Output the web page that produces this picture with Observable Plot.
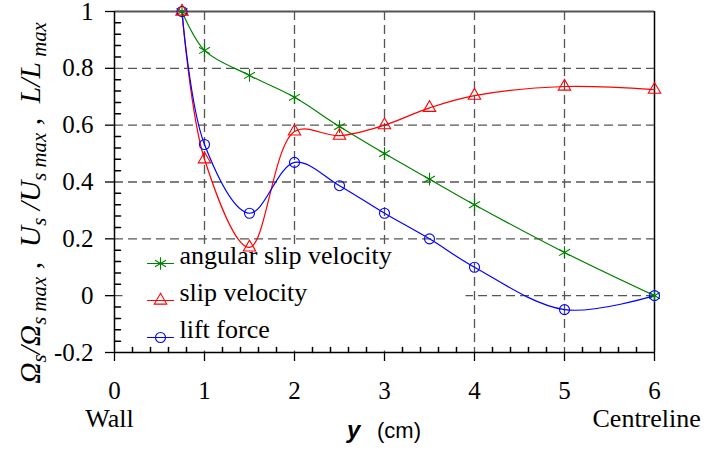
<!DOCTYPE html>
<html>
<head>
<meta charset="utf-8">
<script src="https://cdn.jsdelivr.net/npm/d3@7"></script>
<script src="https://cdn.jsdelivr.net/npm/@observablehq/plot@0.6"></script>
<style>
  body { margin: 0; background: #fff; overflow: hidden; }
  #chart svg { display: block; font-family: "Liberation Serif", "Times New Roman", serif !important; }
  #chart svg text { font-family: "Liberation Serif", "Times New Roman", serif; }
  #chart svg text.sans { font-family: "Liberation Sans", Arial, sans-serif; }
</style>
</head>
<body>
<div id="chart"></div>
<script>
// Radial position y (cm) from the wall to the centreline
const yPos = [0.75, 1, 1.5, 2, 2.5, 3, 3.5, 4, 5, 6];

// Normalised profiles
const angularSlip  = [1, 0.863, 0.775, 0.698, 0.595, 0.50, 0.41, 0.32, 0.152, 0];
const slipVelocity = [1, 0.48, 0.17, 0.578, 0.563, 0.60, 0.661, 0.704, 0.736, 0.725];
const liftForce    = [1, 0.532, 0.29, 0.469, 0.387, 0.29, 0.20, 0.10, -0.049, 0];

const seriesNames   = ["angular slip velocity", "slip velocity", "lift force"];
const seriesColors  = ["#008000", "#ff0000", "#0000ff"];
const seriesSymbols = ["asterisk", "triangle", "circle"];
const symbolRadius  = [6, 4.6, 5];

const xTicks = [0, 1, 2, 3, 4, 5, 6];
const yTicks = [-0.2, 0, 0.2, 0.4, 0.6, 0.8, 1];
const gridX = [1, 2, 3, 4, 5];
const gridY = [0, 0.2, 0.4, 0.6, 0.8];

// Minor ticks: every 0.2 cm on x, every 0.04 on y
const minorX = d3.range(0, 31).filter(k => k % 5).map(k => +(0.2 * k).toFixed(2));
const minorY = d3.range(0, 31).filter(k => k % 5).map(k => +(-0.2 + 0.04 * k).toFixed(2));

const seriesValues = [angularSlip, slipVelocity, liftForce];
const rows = seriesNames.flatMap((name, s) =>
  yPos.map((x, i) => ({series: name, x, value: seriesValues[s][i]}))
);
const radiusOf = name => symbolRadius[seriesNames.indexOf(name)];

// A plain stroke for tick marks and legend samples
const stroke = {draw(context, l) { context.moveTo(0, 0); context.lineTo(0, -l); }};

const legendRowsDy = [-89, -52, -15];
const legendMarks = seriesNames.flatMap((name, i) => [
  Plot.vector([name], {frameAnchor: "bottom-left", dx: 33, dy: legendRowsDy[i], rotate: 90,
    length: 26, anchor: "start", shape: stroke, stroke: seriesColors[i], strokeWidth: 1.2}),
  Plot.dot([name], {frameAnchor: "bottom-left", dx: 46, dy: legendRowsDy[i],
    symbol: seriesSymbols[i], stroke: seriesColors[i], r: symbolRadius[i], strokeWidth: 1.1}),
  Plot.text([name], {frameAnchor: "bottom-left", dx: 65, dy: legendRowsDy[i], text: d => d,
    textAnchor: "start", fontSize: 26, fill: "black"})
]);

const gridStyle = {stroke: "#555", strokeWidth: 1.3, strokeDasharray: "9,5", strokeOpacity: 1};

const chart = Plot.plot({
  width: 704,
  height: 452,
  marginLeft: 114,
  marginRight: 50,
  marginTop: 11,
  marginBottom: 100,
  x: {domain: [0, 6]},
  y: {domain: [-0.2, 1]},
  r: {type: "identity"},
  color: {domain: seriesNames, range: seriesColors},
  symbol: {domain: seriesNames, range: seriesSymbols},
  style: {
    fontSize: "25px",
    color: "black",
    background: "white",
    overflow: "visible"
  },
  marks: [
    Plot.ruleX(gridX, gridStyle),
    Plot.ruleY(gridY, gridStyle),
    // legend background hides the grid behind it
    Plot.frame({fill: "white", stroke: null, insetLeft: 8, insetTop: 236, insetRight: 189, insetBottom: 2}),
    // plot frame
    Plot.ruleY([1], {stroke: "#555", strokeWidth: 2}),
    Plot.ruleX([6], {stroke: "black", strokeWidth: 1.5}),
    Plot.ruleX([0], {stroke: "black", strokeWidth: 1.5}),
    Plot.ruleY([-0.2], {stroke: "black", strokeWidth: 1.5}),
    Plot.axisX(xTicks, {tickSize: 9, tickPadding: 20, tickFormat: d => String(d), label: null, fontSize: 25, strokeWidth: 1.3}),
    Plot.axisY(yTicks, {tickSize: 9, tickPadding: 12, tickFormat: d => String(d), label: null, fontSize: 25, strokeWidth: 1.3}),
    Plot.vector(minorX, {x: d => d, y: -0.2, rotate: 0, length: 5, anchor: "start", shape: stroke, stroke: "black"}),
    Plot.vector(minorY, {x: 0, y: d => d, rotate: 90, length: 6, anchor: "start", shape: stroke, stroke: "black"}),
    Plot.line(rows, {x: "x", y: "value", z: "series", stroke: "series", curve: "catmull-rom", strokeWidth: 1.2}),
    Plot.dot(rows, {x: "x", y: "value", stroke: "series", symbol: "series", r: d => radiusOf(d.series), strokeWidth: 1.1}),
    ...legendMarks,
    Plot.text(["Wall"], {x: 0, frameAnchor: "bottom", dy: 74, text: d => d, fontSize: 26, dx: -5}),
    Plot.text(["Centreline"], {x: 6, frameAnchor: "bottom", dy: 74, text: d => d, fontSize: 26, textAnchor: "start", dx: -62})
  ]
});

document.getElementById("chart").append(chart);

const svg = d3.select(chart);

// x-axis title: bold italic "y" followed by the unit, in a sans face
svg.append("text")
  .attr("class", "sans")
  .attr("x", 347).attr("y", 438)
  .attr("text-anchor", "start")
  .style("font-size", "24px")
  .style("font-style", "italic")
  .style("font-weight", "bold")
  .text("y");
svg.append("text")
  .attr("class", "sans")
  .attr("x", 377).attr("y", 438)
  .attr("text-anchor", "start")
  .style("font-size", "22px")
  .text("(cm)");

// y-axis title with subscripts
const yTitle = svg.append("text")
  .attr("transform", "translate(40,203) rotate(-90)")
  .attr("text-anchor", "middle")
  .style("font-style", "italic");
const parts = [
  ["\u03A9", false], ["s", true], ["/\u03A9", false], ["s max", true],
  [" ,  U", false], ["s", true], [" /U", false], ["s max", true],
  [" ,  L/L", false], [" max", true]
];
let shifted = false;
const spans = [];
for (const [t, sub] of parts) {
  const span = yTitle.append("tspan").text(t);
  spans.push([span, sub]);
  if (sub) {
    if (!shifted) { span.attr("dy", "6"); shifted = true; }
  } else if (shifted) {
    span.attr("dy", "-6"); shifted = false;
  }
}
// size the title so it runs the full height of the axis
const setSizes = k => spans.forEach(([s, sub]) => s.style("font-size", (sub ? 19 : 27) * k + "px"));
setSizes(1);
const measured = yTitle.node().getComputedTextLength();
if (measured > 0) setSizes(Math.min(1.15, Math.max(0.85, 362 / measured)));
</script>
</body>
</html>
